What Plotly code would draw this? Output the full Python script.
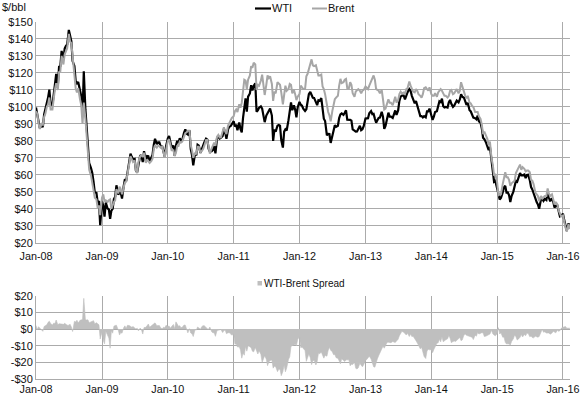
import plotly.graph_objects as go

# ---------------- data (approx. weekly samples) ----------------
SAMPLE_DAYS = [1, 8, 15, 22]
YEARS = [2008, 2009, 2010, 2011, 2012, 2013, 2014, 2015, 2016]

WTI_2008 = [99.6, 95.7, 91.9, 87.5,
            89.0, 88.1, 95.5, 98.2,
            102.5, 105.5, 110.2, 101.8,
            100.9, 108.5, 113.8, 119.4,
            112.5, 123.7, 124.1, 133.0,
            127.8, 134.4, 136.0, 136.8,
            145.3, 141.4, 138.7, 127.0,
            124.1, 115.2, 113.8, 114.6,
            109.7, 106.3, 95.7, 120.9,
            98.5, 88.9, 74.5, 66.8,
            63.9, 61.0, 56.0, 49.6,
            49.3, 43.7, 44.5, 30.3]
BRENT_2008 = [97.5, 96.0, 90.5, 87.0,
              90.0, 89.5, 94.0, 96.0,
              100.0, 101.5, 105.5, 98.5,
              98.5, 105.0, 110.5, 114.0,
              110.0, 120.5, 121.0, 130.0,
              125.0, 131.0, 133.5, 134.5,
              143.0, 138.5, 137.5, 128.5,
              119.5, 111.0, 108.5, 111.0,
              104.5, 101.0, 90.0, 102.5,
              93.0, 83.5, 69.0, 63.0,
              59.5, 56.0, 51.0, 46.5,
              45.5, 40.5, 42.0, 36.3]

WTI_2009 = [44.6, 41.7, 35.4, 43.6,
            40.1, 39.6, 34.0, 38.9,
            40.0, 45.7, 47.1, 53.8,
            48.4, 49.4, 49.4, 46.0,
            53.2, 57.4, 56.3, 61.7,
            68.6, 72.5, 70.6, 69.0,
            69.3, 62.5, 61.5, 66.4,
            71.6, 70.9, 67.5, 73.9,
            68.0, 71.1, 71.0, 68.0,
            69.8, 71.7, 77.6, 81.2,
            78.0, 79.1, 79.1, 76.7,
            76.6, 73.1, 70.7, 76.7]
BRENT_2009 = [46.5, 48.5, 44.3, 45.0,
              44.0, 45.0, 45.5, 40.0,
              42.5, 44.0, 45.0, 51.5,
              49.0, 53.0, 51.5, 48.5,
              52.5, 55.5, 56.0, 59.5,
              66.5, 71.0, 69.5, 67.5,
              68.5, 62.5, 61.0, 67.5,
              71.0, 71.5, 70.5, 73.0,
              67.0, 69.0, 68.0, 67.0,
              68.0, 69.5, 75.0, 77.5,
              76.0, 77.0, 77.0, 76.0,
              76.5, 72.0, 70.0, 74.5]

WTI_2010 = [81.5, 82.8, 78.0, 76.0,
            77.2, 71.2, 77.3, 80.0,
            78.7, 81.5, 79.8, 80.5,
            84.9, 86.8, 84.3, 83.7,
            86.2, 75.1, 71.6, 65.5,
            72.6, 71.4, 77.7, 77.2,
            72.9, 75.4, 77.0, 79.0,
            81.3, 80.7, 75.4, 73.7,
            73.9, 74.7, 76.8, 72.6,
            81.6, 82.7, 81.3, 81.7,
            82.9, 87.1, 84.9, 81.2,
            86.8, 88.3, 88.6, 89.8]
BRENT_2010 = [80.0, 81.0, 77.5, 74.5,
              74.5, 71.0, 73.0, 77.0,
              77.0, 79.5, 79.0, 79.5,
              82.5, 84.5, 85.0, 86.0,
              86.0, 77.5, 74.5, 70.0,
              73.0, 72.0, 76.5, 76.5,
              73.0, 74.0, 75.0, 77.0,
              80.5, 80.5, 75.5, 72.5,
              75.5, 77.0, 79.0, 77.0,
              82.5, 83.5, 82.0, 82.0,
              85.0, 88.0, 85.5, 84.0,
              89.0, 90.5, 91.5, 93.5]

WTI_2011 = [91.6, 88.4, 89.6, 86.2,
            90.8, 86.9, 85.0, 93.6,
            100.3, 105.0, 97.2, 106.0,
            107.9, 112.8, 109.7, 112.3,
            113.9, 97.2, 98.0, 99.5,
            100.3, 99.0, 95.0, 91.0,
            94.9, 96.5, 97.2, 99.1,
            94.9, 80.0, 86.7, 85.4,
            88.9, 89.3, 88.9, 80.5,
            76.0, 85.4, 86.8, 86.1,
            92.2, 96.8, 102.6, 98.0,
            100.9, 98.4, 93.9, 99.7]
BRENT_2011 = [94.5, 97.5, 98.5, 97.0,
              101.5, 99.5, 102.5, 108.0,
              116.0, 115.5, 110.5, 116.0,
              118.5, 124.0, 123.0, 126.0,
              125.0, 110.0, 113.0, 112.5,
              115.5, 119.0, 113.5, 107.0,
              113.0, 118.5, 117.0, 118.0,
              113.5, 103.5, 109.0, 108.0,
              114.5, 113.5, 113.0, 108.5,
              101.5, 107.0, 112.5, 109.5,
              110.5, 113.5, 113.0, 108.0,
              110.0, 107.5, 104.0, 106.0]

WTI_2012 = [102.9, 101.3, 100.7, 99.0,
            97.6, 98.6, 102.3, 107.5,
            108.8, 106.6, 105.4, 105.3,
            102.9, 101.0, 103.9, 103.6,
            105.2, 96.8, 93.0, 91.7,
            83.2, 84.1, 84.0, 78.8,
            83.8, 86.1, 89.2, 88.3,
            88.9, 93.4, 95.6, 96.2,
            95.3, 96.5, 98.0, 92.5,
            92.5, 92.4, 91.9, 86.7,
            86.0, 85.4, 85.5, 87.2,
            88.9, 86.3, 86.8, 88.6]
BRENT_2012 = [107.5, 112.5, 111.5, 110.5,
              110.5, 118.0, 119.5, 122.5,
              126.0, 128.0, 124.5, 124.0,
              124.5, 120.5, 118.5, 118.5,
              119.0, 112.0, 110.5, 107.5,
              99.5, 97.0, 95.0, 91.5,
              97.5, 101.5, 104.5, 105.5,
              106.5, 112.5, 116.5, 114.0,
              114.5, 116.0, 116.5, 111.0,
              111.0, 114.5, 113.0, 108.0,
              106.0, 109.0, 109.5, 110.5,
              109.5, 108.0, 109.5, 110.0]

WTI_2013 = [93.1, 93.2, 93.3, 96.2,
            97.5, 95.7, 95.9, 93.1,
            90.7, 92.1, 93.5, 93.7,
            97.1, 94.2, 87.0, 88.8,
            93.5, 96.6, 94.3, 94.3,
            93.5, 95.8, 97.9, 95.3,
            97.9, 103.5, 106.0, 106.6,
            106.6, 104.4, 106.9, 108.5,
            110.5, 109.5, 106.5, 104.7,
            102.1, 103.5, 101.2, 97.9,
            94.6, 94.6, 93.8, 94.5,
            93.8, 97.3, 97.3, 99.0]
BRENT_2013 = [112.0, 111.5, 110.5, 112.5,
              115.5, 117.0, 118.5, 116.0,
              110.5, 110.0, 109.5, 108.0,
              110.0, 104.5, 98.5, 99.0,
              101.5, 104.5, 102.5, 102.5,
              101.0, 103.5, 106.0, 102.5,
              104.0, 107.5, 109.0, 108.0,
              108.5, 107.5, 110.5, 111.0,
              115.0, 112.5, 111.0, 109.0,
              108.5, 110.5, 109.5, 107.5,
              106.5, 105.5, 107.5, 111.0,
              111.5, 110.5, 109.5, 111.5]

WTI_2014 = [95.1, 92.3, 94.2, 97.0,
            97.5, 100.3, 103.3, 102.8,
            104.9, 100.4, 99.7, 100.0,
            99.6, 102.6, 104.1, 101.8,
            100.0, 100.8, 102.0, 103.7,
            102.7, 104.4, 107.5, 106.0,
            105.4, 103.5, 101.2, 102.4,
            98.0, 97.3, 95.6, 93.7,
            93.3, 92.7, 94.9, 91.5,
            90.7, 87.3, 81.8, 81.0,
            78.8, 77.2, 74.6, 76.5,
            68.8, 63.1, 55.9, 56.4]
BRENT_2014 = [107.5, 106.5, 106.5, 108.0,
              106.0, 108.5, 109.5, 110.5,
              109.5, 108.0, 106.5, 106.5,
              105.5, 106.5, 109.5, 110.0,
              107.5, 108.0, 109.5, 110.5,
              108.0, 109.5, 114.5, 112.5,
              109.0, 106.5, 105.0, 106.5,
              102.5, 102.0, 100.5, 100.0,
              97.0, 97.0, 97.0, 94.5,
              93.0, 89.5, 84.0, 85.5,
              83.0, 81.0, 77.5, 79.5,
              69.5, 66.0, 59.5, 60.5]

WTI_2015 = [52.7, 48.8, 45.5, 46.3,
            49.6, 52.7, 53.5, 49.5,
            49.6, 48.0, 43.9, 47.5,
            50.1, 52.9, 56.4, 55.9,
            59.2, 61.0, 59.7, 59.7,
            60.2, 58.0, 59.9, 60.0,
            56.9, 52.8, 51.4, 49.2,
            45.2, 43.9, 42.6, 40.0,
            45.4, 45.9, 44.6, 45.8,
            45.1, 49.4, 46.6, 44.4,
            46.1, 44.2, 40.7, 41.7,
            41.8, 37.6, 35.5, 35.9]
BRENT_2015 = [55.5, 48.0, 48.5, 48.5,
              54.5, 57.5, 61.5, 58.5,
              58.5, 57.0, 53.5, 55.0,
              56.0, 56.5, 61.0, 62.5,
              65.0, 66.0, 63.0, 64.5,
              63.5, 62.0, 62.5, 62.5,
              61.5, 57.0, 56.5, 54.5,
              49.5, 48.5, 47.5, 44.5,
              47.5, 46.0, 46.5, 47.5,
              47.5, 52.0, 49.0, 47.5,
              48.5, 45.5, 42.5, 44.0,
              42.5, 39.0, 36.5, 35.5]

WTI_2016 = [37.0, 33.3, 30.5, 27.0, 31.5, 28.5]
BRENT_2016 = [36.0, 32.0, 29.0, 26.5, 31.0, 28.0]

WTI_BY_YEAR = [WTI_2008, WTI_2009, WTI_2010, WTI_2011, WTI_2012,
               WTI_2013, WTI_2014, WTI_2015, WTI_2016]
BRENT_BY_YEAR = [BRENT_2008, BRENT_2009, BRENT_2010, BRENT_2011, BRENT_2012,
                 BRENT_2013, BRENT_2014, BRENT_2015, BRENT_2016]

Y_TOP_TICKS = [20, 30, 40, 50, 60, 70, 80, 90, 100, 110, 120, 130, 140, 150]
Y_BOT_TICKS = [-30, -20, -10, 0, 10, 20]
Y_BOT_LABELS = ["-$30", "-$20", "-$10", "$0", "$10", "$20"]

# ---------------- build series ----------------
dates, wti, brent = [], [], []
for year, wv, bv in zip(YEARS, WTI_BY_YEAR, BRENT_BY_YEAR):
    for k, (w, b) in enumerate(zip(wv, bv)):
        month = k // 4 + 1
        day = SAMPLE_DAYS[k % 4]
        dates.append(f"{year}-{month:02d}-{day:02d}")
        wti.append(w)
        brent.append(b)
spread = [round(w - b, 2) for w, b in zip(wti, brent)]

# ---------------- layout helpers (pixel -> paper) ----------------
W, H = 580, 395
ML, MR, MT, MB = 36, 10, 22, 16
PW, PH = W - ML - MR, H - MT - MB


def px_x(p):
    return (p - ML) / PW


def px_y(p):
    return (H - MB - p) / PH


GRID = "#ABABAB"
FONT = "Liberation Sans, Arial, sans-serif"
TXT = "#111111"

fig = go.Figure()
fig.add_trace(go.Scatter(x=dates, y=wti, mode="lines", name="WTI",
                         line=dict(color="#000000", width=2.2),
                         xaxis="x", yaxis="y"))
fig.add_trace(go.Scatter(x=dates, y=brent, mode="lines", name="Brent",
                         line=dict(color="#A6A6A6", width=2),
                         xaxis="x", yaxis="y"))
fig.add_trace(go.Scatter(x=dates, y=spread, mode="lines", name="WTI-Brent Spread",
                         fill="tozeroy", fillcolor="#BFBFBF",
                         line=dict(color="#BFBFBF", width=0.6),
                         xaxis="x2", yaxis="y2"))

xcommon = dict(type="date", range=["2008-01-01", "2016-02-09"],
               tick0="2008-01-01", dtick="M12", tickformat="%b-%y",
               showgrid=True, gridcolor=GRID, gridwidth=1, automargin=False,
               zeroline=False, showline=True, linecolor=GRID, linewidth=1,
               ticks="outside", tickcolor="rgba(0,0,0,0)",
               tickfont=dict(family=FONT, size=10.8, color=TXT))

top_lo = px_y(242.7)
bot_hi = px_y(295.7)

fig.update_layout(
    width=W, height=H,
    margin=dict(l=ML, r=MR, t=MT, b=MB, autoexpand=False),
    paper_bgcolor="white", plot_bgcolor="white",
    showlegend=False,
    font=dict(family=FONT, size=11, color=TXT),
    xaxis=dict(xcommon, anchor="y", domain=[0, 1], ticklen=3),
    yaxis=dict(domain=[top_lo, 1], range=[20, 150], tickvals=Y_TOP_TICKS,
               ticktext=[f"${v}" for v in Y_TOP_TICKS], automargin=False,
               showgrid=True, gridcolor=GRID, gridwidth=1, zeroline=False,
               showline=True, linecolor=GRID, linewidth=1,
               ticks="", tickfont=dict(family=FONT, size=11, color=TXT)),
    xaxis2=dict(xcommon, anchor="y2", domain=[0, 1], ticklen=0),
    yaxis2=dict(domain=[0, bot_hi], range=[-30, 20], tickvals=Y_BOT_TICKS,
                ticktext=Y_BOT_LABELS, automargin=False,
                showgrid=True, gridcolor=GRID, gridwidth=1, zeroline=False,
                showline=True, linecolor=GRID, linewidth=1,
                ticks="", tickfont=dict(family=FONT, size=11, color=TXT)),
)

# ---------------- manual legends and unit label ----------------
shapes = [
    dict(type="line", xref="paper", yref="paper",
         x0=px_x(255), x1=px_x(271), y0=px_y(8.5), y1=px_y(8.5),
         line=dict(color="#000000", width=2.2)),
    dict(type="line", xref="paper", yref="paper",
         x0=px_x(312), x1=px_x(327), y0=px_y(8.5), y1=px_y(8.5),
         line=dict(color="#A6A6A6", width=2)),
    dict(type="rect", xref="paper", yref="paper",
         x0=px_x(257.5), x1=px_x(262), y0=px_y(285.5), y1=px_y(281),
         fillcolor="#BFBFBF", line=dict(width=0)),
]
annotations = [
    dict(text="$/bbl", xref="paper", yref="paper", x=px_x(0), y=px_y(7),
         xanchor="left", yanchor="middle", showarrow=False,
         font=dict(family=FONT, size=11, color=TXT)),
    dict(text="WTI", xref="paper", yref="paper", x=px_x(270), y=px_y(8.5),
         xanchor="left", yanchor="middle", showarrow=False,
         font=dict(family=FONT, size=11, color=TXT)),
    dict(text="Brent", xref="paper", yref="paper", x=px_x(325.5), y=px_y(8.5),
         xanchor="left", yanchor="middle", showarrow=False,
         font=dict(family=FONT, size=11, color=TXT)),
    dict(text="WTI-Brent Spread", xref="paper", yref="paper", x=px_x(261.5),
         y=px_y(283.3), xanchor="left", yanchor="middle", showarrow=False,
         font=dict(family=FONT, size=10, color=TXT)),
]
fig.update_layout(shapes=shapes, annotations=annotations)

# remove the browser's default page margin so the figure sits at the window origin
fig.write_html("out.html",
               config={"displayModeBar": False},
               post_script="document.body.style.margin='0';"
                           "document.body.style.overflow='hidden';")
